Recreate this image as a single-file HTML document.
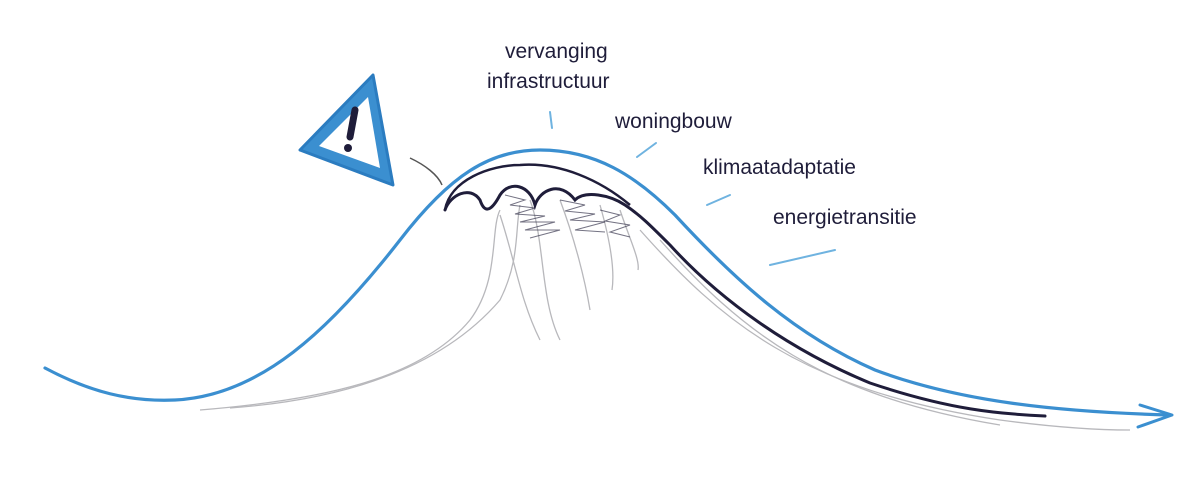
<!DOCTYPE html>
<html><head><meta charset="utf-8"><style>
html,body{margin:0;padding:0;background:#fff;}
svg{display:block}
text{font-family:"Liberation Sans",sans-serif;font-size:21px;fill:#1f1d3a;}
</style></head><body>
<svg width="1200" height="496" viewBox="0 0 1200 496" xmlns="http://www.w3.org/2000/svg">
<g fill="none" stroke="#b8b8bc" stroke-width="1.3">
<path d="M200,410 C320,400 420,380 470,320 C500,280 490,230 500,210"/>
<path d="M230,408 C340,400 440,370 500,300 C520,260 515,230 520,205"/>
<path d="M530,200 C545,240 540,300 560,340"/>
<path d="M560,200 C575,240 585,280 590,310"/>
<path d="M600,205 C610,240 615,270 612,290"/>
<path d="M620,210 C630,240 640,260 638,270"/>
<path d="M640,230 C720,320 800,390 1000,420 C1060,428 1100,430 1130,430"/>
<path d="M660,240 C740,330 820,395 1000,425"/>
<path d="M500,215 C515,260 520,300 540,340"/>
</g>
<g fill="none" stroke="#3a3850" stroke-width="1" opacity="0.7">
<path d="M505,195 l20,5 l-15,5 l25,3 l-20,6 l30,2 l-25,6 l35,0 l-30,8 l35,0 l-30,8"/>
<path d="M560,200 l25,5 l-20,6 l30,3 l-25,6 l35,2 l-30,8 l30,2"/>
<path d="M600,210 l20,5 l-15,6 l25,4 l-20,7 l20,5"/>
</g>
<path d="M445,210 C450,195 470,185 480,200 C485,215 492,210 500,195 C510,180 530,185 535,205 C540,190 560,180 575,200 C585,190 610,195 625,205 C640,215 650,225 670,245 C720,300 790,350 870,383 C950,410 1000,414 1045,416" fill="none" stroke="#1f1d3a" stroke-width="3" stroke-linecap="round"/>
<path d="M445,210 C450,180 490,165 520,165 C560,162 600,180 630,205" fill="none" stroke="#1f1d3a" stroke-width="2.5"/>
<path d="M45,368 C90,392 130,402 175,400 C260,396 330,330 400,240 C450,175 490,150 540,150 C595,150 635,175 675,215 C735,280 795,335 875,370 C960,402 1060,412 1170,415" fill="none" stroke="#3b8fd0" stroke-width="3.2" stroke-linecap="round"/>
<path d="M1140,405 L1172,415 L1138,427" fill="none" stroke="#3b8fd0" stroke-width="3" stroke-linecap="round" stroke-linejoin="round"/>
<g stroke="#6fb3e0" stroke-width="2" stroke-linecap="round">
<path d="M552,128 L550,112"/>
<path d="M637,157 L656,143"/>
<path d="M707,205 L730,195"/>
<path d="M770,265 L835,250"/>
</g>
<path d="M410,158 C425,165 438,175 442,185" fill="none" stroke="#555" stroke-width="1.5"/>
<path d="M373,75 L300,150 L393,185 Z" fill="#3b8fd0" stroke="#2b7cc0" stroke-width="3" stroke-linejoin="round"/>
<path d="M368,97 L319,146 L380,168 Z" fill="#fff"/>
<path d="M355,110 L350,137" stroke="#1f1d3a" stroke-width="7" stroke-linecap="round"/>
<circle cx="348" cy="148" r="4" fill="#1f1d3a"/>
<text x="505" y="58">vervanging</text>
<text x="487" y="88">infrastructuur</text>
<text x="615" y="128">woningbouw</text>
<text x="703" y="174">klimaatadaptatie</text>
<text x="773" y="224">energietransitie</text>
</svg>
</body></html>
